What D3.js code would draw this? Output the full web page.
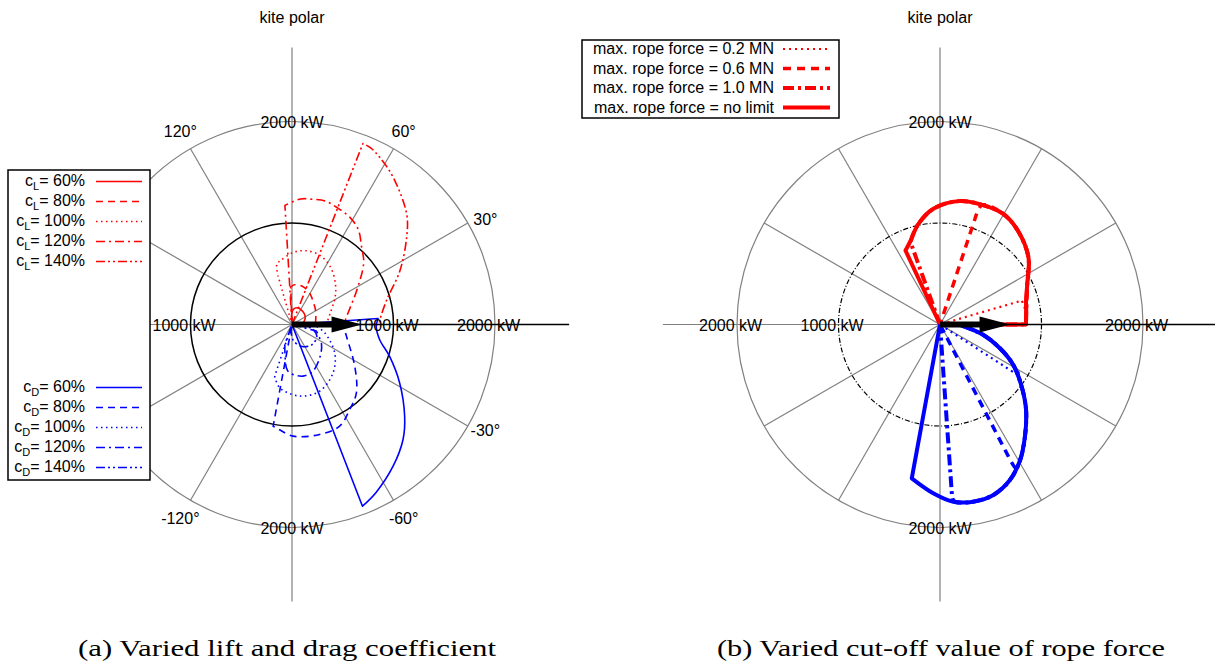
<!DOCTYPE html>
<html>
<head>
<meta charset="utf-8">
<script src="https://cdn.jsdelivr.net/npm/d3@7"></script>
<style>
  body { margin: 0; background: #ffffff; }
  text { font-family: "Liberation Sans", Arial, sans-serif; fill: #000; }
  .caption { font-family: "Liberation Serif", "Times New Roman", serif; }
</style>
</head>
<body>
<div id="wrap"></div>
<script>
// ---- 数据 (角度 deg, 功率 kW) ----
const ringValues = [1000, 2000];
const spokeAngles = [0, 30, 60, 90, 120, 150, 180, 210, 240, 270, 300, 330];
const angleTicks = [30, 60, 120, -120, -60, -30];
const angleLabels = ['30°', '60°', '120°', '-120°', '-60°', '-30°'];
const coefLevels = ['60%', '80%', '100%', '120%', '140%'];
const ropeLabels = ['max. rope force = 0.2 MN', 'max. rope force = 0.6 MN',
                    'max. rope force = 1.0 MN', 'max. rope force = no limit'];

// (a) lift coefficient variation
const cL60  = [[96,0],[92,100],[85,150],[73,172],[58,170],[41,161],[26,145],[11,116],[3,90],[0,0]];
const cL80  = [[93,0],[92,370],[85,395],[72,385],[58,345],[45,300],[33,275],[20,250],[8,235],[0,230],[0,0]];
const cL100 = [[106,0],[106,500],[104,615],[100,640],[89,710],[79,740],[68,735],[56,680],[43,585],[32,500],[16,390],[1,340],[0,0]];
const cL120 = [[93.4,0],[93.4,1175],[86,1240],[80.6,1250],[75,1260],[69,1235],[61.6,1200],[55,1140],[48,1025],[40.6,930],[27.7,720],[16.6,600],[4,525],[0,515],[0,0]];
const cL140 = [[68.6,0],[68.6,1915],[66,1905],[62.3,1860],[55.5,1760],[44,1570],[37.3,1420],[26.6,1190],[14.2,960],[2.6,865],[0,860],[0,0]];
// (a) drag coefficient variation
const cD60  = [[4,0],[4,850],[-1.2,830],[-9.7,875],[-18,1010],[-28.4,1205],[-39.1,1430],[-46,1575],[-54.5,1715],[-63.4,1850],[-68.8,1920],[-68.8,0]];
const cD80  = [[0,0],[0,505],[-12,548],[-33.6,742],[-46.7,925],[-55.8,1012],[-64.9,1106],[-75.9,1117],[-89.5,1100],[-98.6,1030],[-100.5,1020],[-100.5,0]];
const cD100 = [[-2,0],[-4,236],[-14.2,332],[-33.5,504],[-49.7,625],[-67.4,711],[-83.9,709],[-101,635],[-108.5,537],[-109,0]];
const cD120 = [[-5,0],[-15,249],[-34,351],[-50.3,427],[-65.8,504],[-78,520],[-92.7,477],[-97.4,430],[-110,207],[-110,0]];
const cD140 = [[-3,0],[-10,200],[-25,270],[-45,280],[-65,240],[-85,160],[-100,60],[-100,0]];

// (b) rope force variation, upper branch
const up02  = [[0,0],[0,847],[8,855],[16.3,840],[16.3,0]];
const up06  = [[0,0],[0,847],[9,860],[24.6,945],[37.2,1094],[50.4,1202],[60.4,1255],[70.5,1250],[71.7,1100],[71.7,0]];
const up10  = [[0,0],[0,847],[9,860],[24.6,945],[37.2,1094],[50.4,1202],[60.4,1255],[71,1249],[81.2,1230],[93.3,1142],[102,1015],[109,875],[109.7,828],[109.7,0]];
const upInf = [[0,0],[0,847],[9,860],[16,882],[24.6,945],[37.2,1094],[50.4,1202],[60.4,1255],[71,1249],[81.2,1230],[93.3,1142],[102,1015],[110,865],[115,805],[115,0]];
// (b) lower branch
const lo02  = [[-1.4,0],[-1.4,197],[-13.6,440],[-21.6,635],[-28.9,825],[-32.5,930],[-33,765],[-33,0]];
const lo06  = [[-1.4,0],[-1.4,197],[-13.6,440],[-21.6,635],[-28.9,825],[-37.3,1012],[-44.8,1195],[-52.9,1387],[-59.4,1551],[-62,1610],[-62.6,1468],[-62.6,0]];
const lo10  = [[-1.4,0],[-1.4,197],[-13.6,440],[-21.6,635],[-28.9,825],[-37.3,1012],[-44.8,1195],[-52.9,1387],[-59.4,1551],[-65.8,1680],[-72.6,1760],[-79.4,1776],[-85.5,1745],[-86,1672],[-86,0]];
const loInf = [[-1.4,0],[-1.4,197],[-13.6,440],[-21.6,635],[-28.9,825],[-37.3,1012],[-44.8,1195],[-52.9,1387],[-59.4,1551],[-65.8,1680],[-72.6,1760],[-79.4,1776],[-85.7,1751],[-92.3,1664],[-100.4,1541],[-100.4,0]];

// ---- 画布 ----
const WIDTH = 1215;
const HEIGHT = 663;
const CY = 324.5;
const R_MAX = 2730; // 坐标轴延伸长度 (kW)

const svg = d3.select('#wrap').append('svg')
  .attr('width', WIDTH).attr('height', HEIGHT)
  .style('background', '#ffffff');

const r = d3.scaleLinear().domain([0, 2000]).range([0, 203]);
const toRad = a => (90 - a) * Math.PI / 180;
// 平滑曲线部分
const line = d3.lineRadial()
  .angle(d => toRad(d[0]))
  .radius(d => r(d[1]))
  .curve(d3.curveCatmullRom.alpha(0.5));
const px = (a, v) => [r(v) * Math.cos(a * Math.PI / 180), -r(v) * Math.sin(a * Math.PI / 180)];

// 原点 -> 曲线 -> 原点, 径向线保持直线
function seriesPath(data) {
  const inner = data.filter(d => d[1] > 0);
  return 'M0,0L' + line(inner).slice(1) + 'L0,0';
}

const RED = '#ff0000', BLUE = '#0000ff', GRAY = '#808080';

function drawPolar(cx, cfg) {
  const g = svg.append('g').attr('transform', `translate(${cx},${CY})`);

  // 网格: 辐条
  spokeAngles.forEach(a => {
    const end = px(a, a % 90 === 0 ? R_MAX : 2000);
    g.append('line').attr('x1', 0).attr('y1', 0).attr('x2', end[0]).attr('y2', end[1])
      .attr('stroke', GRAY).attr('stroke-width', 1.2);
  });
  // 外圈
  g.append('circle').attr('r', r(ringValues[1]))
    .attr('fill', 'none').attr('stroke', GRAY).attr('stroke-width', 1.2);
  // 1000 kW 黑圈
  g.append('circle').attr('r', r(ringValues[0]))
    .attr('fill', 'none').attr('stroke', '#000').attr('stroke-width', cfg.ringWidth)
    .attr('stroke-dasharray', cfg.ringDash);

  // 曲线
  cfg.series.forEach(s => {
    g.append('path').attr('d', seriesPath(s.data))
      .attr('fill', 'none').attr('stroke', s.color)
      .attr('stroke-width', s.width)
      .attr('stroke-dasharray', s.dash)
      .attr('stroke-linejoin', 'round');
  });

  // 风向箭头
  const tip = px(0, R_MAX);
  g.append('line').attr('x1', 0).attr('y1', 0).attr('x2', tip[0]).attr('y2', 0)
    .attr('stroke', '#000').attr('stroke-width', 1.4);
  g.append('rect').attr('x', 0).attr('y', -3).attr('width', r(400)).attr('height', 6).attr('fill', '#000');
  g.append('path')
    .attr('d', `M${r(390)},-8 L${r(690)},0 L${r(390)},8 Z`)
    .attr('fill', '#000');

  // 刻度文字
  cfg.radialLabels.forEach(l => {
    const p = px(l.angle, l.value);
    const t = g.append('text').attr('font-size', 16).text(l.value + ' kW');
    if (l.angle % 180 === 0) {
      t.attr('x', p[0] - 38).attr('y', p[1] + 6);
    } else {
      t.attr('x', p[0]).attr('y', p[1] + 6).attr('text-anchor', 'middle');
    }
  });
  if (cfg.angleLabels) {
    angleTicks.forEach((a, i) => {
      const p = px(a, 2200);
      const shift = Math.abs(a) === 30 ? 6 : 0; // ±30° 文字稍靠近水平轴
      g.append('text').attr('x', p[0]).attr('y', p[1] + 6 + (a > 0 ? shift : -shift))
        .attr('text-anchor', 'middle').attr('font-size', 16)
        .text(angleLabels[i]);
    });
  }

  // 标题
  svg.append('text').attr('x', cx).attr('y', 23)
    .attr('text-anchor', 'middle').attr('font-size', 16).text('kite polar');
}

// 线型
const leftDash = [null, '7,5', '1.5,3.5', '9,4,2,4', '9,3,2,3,2,3'];
const rightDash = ['2,4', '8,6', '11,4,3,4', null];

const leftSeries = [cL60, cL80, cL100, cL120, cL140].map((d, i) => ({ data: d, color: RED, dash: leftDash[i], width: 1.6 }))
  .concat([cD60, cD80, cD100, cD120, cD140].map((d, i) => ({ data: d, color: BLUE, dash: leftDash[i], width: 1.6 })));

const rightWidths = [2.2, 3.5, 4, 4];
const rightSeries = [up02, up06, up10, upInf].map((d, i) => ({ data: d, color: RED, dash: rightDash[i], width: rightWidths[i] }))
  .concat([lo02, lo06, lo10, loInf].map((d, i) => ({ data: d, color: BLUE, dash: rightDash[i], width: rightWidths[i] })));

drawPolar(292, {
  series: leftSeries,
  ringWidth: 1.5,
  ringDash: null,
  angleLabels: true,
  radialLabels: [
    { angle: 180, value: 1000 }, { angle: 0, value: 1000 }, { angle: 0, value: 2000 },
    { angle: 90, value: 2000 }, { angle: -90, value: 2000 }
  ]
});

drawPolar(940, {
  series: rightSeries,
  ringWidth: 1.2,
  ringDash: '5,2,1,2',
  angleLabels: false,
  radialLabels: [
    { angle: 180, value: 2000 }, { angle: 180, value: 1000 }, { angle: 0, value: 2000 },
    { angle: 90, value: 2000 }, { angle: -90, value: 2000 }
  ]
});

// ---- 图例 (a) ----
const legA = svg.append('g');
legA.append('rect').attr('x', 8).attr('y', 170).attr('width', 142).attr('height', 310)
  .attr('fill', '#fff').attr('stroke', '#000').attr('stroke-width', 1.5);
function coefEntry(y, sub, level, color, dash) {
  const t = legA.append('text').attr('x', 85).attr('y', y).attr('text-anchor', 'end').attr('font-size', 16);
  t.append('tspan').text('c');
  t.append('tspan').attr('font-size', 11).attr('dy', 4).text(sub);
  t.append('tspan').attr('dy', -4).text('= ' + level);
  legA.append('line').attr('x1', 96).attr('x2', 142).attr('y1', y - 4.5).attr('y2', y - 4.5)
    .attr('stroke', color).attr('stroke-width', 1.6).attr('stroke-dasharray', dash);
}
coefLevels.forEach((lv, i) => coefEntry(186 + i * 20, 'L', lv, RED, leftDash[i]));
coefLevels.forEach((lv, i) => coefEntry(392 + i * 20, 'D', lv, BLUE, leftDash[i]));

// ---- 图例 (b) ----
const legB = svg.append('g');
legB.append('rect').attr('x', 582).attr('y', 40).attr('width', 257).attr('height', 78)
  .attr('fill', '#fff').attr('stroke', '#000').attr('stroke-width', 1.5);
ropeLabels.forEach((lab, i) => {
  const y = 54 + i * 19.5;
  legB.append('text').attr('x', 774).attr('y', y).attr('text-anchor', 'end').attr('font-size', 16).text(lab);
  legB.append('line').attr('x1', 783).attr('x2', 830).attr('y1', y - 5).attr('y2', y - 5)
    .attr('stroke', RED).attr('stroke-width', rightWidths[i]).attr('stroke-dasharray', rightDash[i]);
});

// ---- 子图标题 ----
svg.append('text').attr('class', 'caption').attr('x', 287).attr('y', 656)
  .attr('text-anchor', 'middle').attr('font-size', 23)
  .attr('textLength', 418).attr('lengthAdjust', 'spacingAndGlyphs')
  .text('(a) Varied lift and drag coefficient');
svg.append('text').attr('class', 'caption').attr('x', 941).attr('y', 656)
  .attr('text-anchor', 'middle').attr('font-size', 23)
  .attr('textLength', 448).attr('lengthAdjust', 'spacingAndGlyphs')
  .text('(b) Varied cut-off value of rope force');
</script>
</body>
</html>
